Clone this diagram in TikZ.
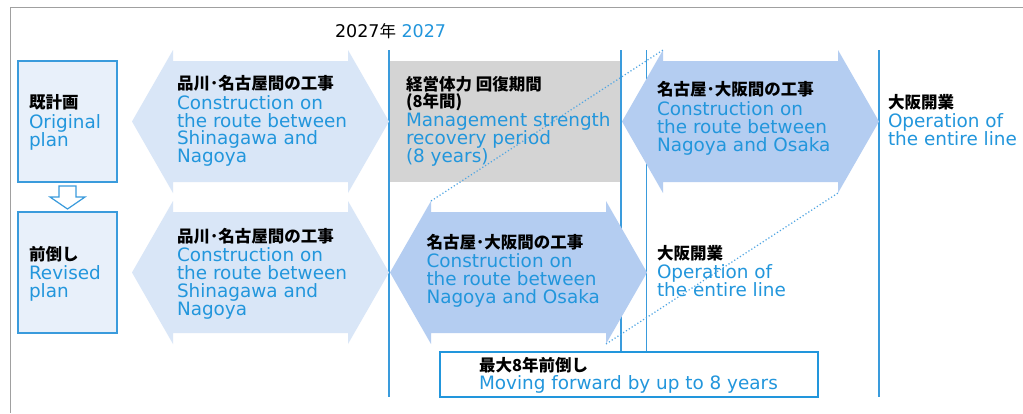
\documentclass[tikz,border=0pt]{standalone}
\usepackage{fontspec}
\setmainfont{DejaVu Sans}
\newfontfamily\jpf{Noto Sans CJK JP}
\definecolor{tblue}{HTML}{2296DC}
\definecolor{lblue}{HTML}{3A9BDC}
\definecolor{arrA}{HTML}{D9E6F7}
\definecolor{arrB}{HTML}{B4CDF1}
\definecolor{boxfill}{HTML}{E8F0FA}
\definecolor{grayfill}{HTML}{D4D4D4}
\definecolor{framecol}{HTML}{A0A0A0}
\definecolor{dotblue}{HTML}{4FA5E3}
\newcommand\jl[1]{\hbox{\fontsize{16.5}{17.8}\selectfont\jpf\bfseries #1}}
\newcommand\el[1]{\hbox{\fontsize{18.4}{17.8}\selectfont\color{tblue}#1}}
\newcommand\tb[1]{\vtop{\baselineskip=17.8pt\lineskip=0pt\lineskiplimit=-100pt\relax #1}}
\newcommand\hexarrow[4]{%
  \begin{scope}[shift={(#2,#3)}]
    \fill[#4] (0,0)--(41,-71.5)--(41,-60.5)--(216,-60.5)--(216,-71.5)--(257,0)
      --(216,71.5)--(216,60.5)--(41,60.5)--(41,71.5)--cycle;
    \coordinate (#1-tl) at (41,-71.5);
    \coordinate (#1-br) at (216,71.5);
  \end{scope}}
\tikzset{
  txt/.style={anchor=base west, inner sep=0pt, outer sep=0pt},
  planbox/.style={draw=lblue, fill=boxfill, line width=1.3pt, minimum width=99pt, minimum height=121pt, inner sep=0pt},
  vline/.style={draw=lblue, line width=1.3pt},
  dotline/.style={draw=dotblue, line width=1.2pt, dash pattern=on 1.2pt off 2.2pt},
}
\begin{document}
\begin{tikzpicture}[x=1pt,y=-1pt]
\useasboundingbox (0,0) rectangle (1023,413);
\fill[white] (0,0) rectangle (1023,413);
% frame
\draw[framecol, line width=1.5pt] (1023,7.5) -- (10.5,7.5) -- (10.5,413);
% gray box
\fill[grayfill] (390,61) rectangle (621,182);
% timeline lines
\draw[vline] (389,50) -- (389,397);
\draw[vline] (621,50) -- (621,352);
\draw[vline] (646.5,50) -- (646.5,352);
\draw[vline] (879,50) -- (879,397);
% arrows
\hexarrow{shA}{132}{121.5}{arrA}
\hexarrow{shB}{132}{272.5}{arrA}
\hexarrow{noA}{622}{121.5}{arrB}
\hexarrow{noB}{390}{272.5}{arrB}
% dotted connectors
\draw[dotline] (noB-tl) -- (noA-tl);
\draw[dotline] (noB-br) -- (noA-br);
% plan boxes
\node[planbox] (orig) at (67.5,121.5) {};
\node[planbox] (rev) at (67.5,272.5) {};
\draw[lblue, line width=1.2pt, fill=white, line join=miter]
  (59,186) -- (76,186) -- (76,197) -- (85,197) -- (67.5,209) -- (50,197) -- (59,197) -- cycle;
% bottom box
\node[draw=tblue, fill=white, line width=2pt, minimum width=378pt, minimum height=45pt, inner sep=0pt] (fwdbox) at (629,374.5) {};
% year label
\node[txt] (year) at (335,37) {\fontsize{17.5}{18}\selectfont 2027\jpf\fontsize{16.5}{18}\selectfont 年\fontsize{17.5}{18}\selectfont\rmfamily\ \textcolor{tblue}{2027}};
% texts
\node[txt] (t-orig) at (29,108.5) {\tb{\jl{既計画}\vskip2pt\el{Original}\el{plan}}};
\node[txt] (t-shA) at (177,89.5) {\tb{\jl{品川･名古屋間の工事}\vskip2pt\el{Construction on}\el{the route between}\el{Shinagawa and}\el{Nagoya}}};
\node[txt] (t-mgmt) at (406,90) {\tb{\jl{経営体力 回復期間}\jl{(8年間)}\vskip1pt\el{Management strength}\el{recovery period}\el{(8 years)}}};
\node[txt] (t-noA) at (657,95.5) {\tb{\jl{名古屋･大阪間の工事}\vskip2.5pt\el{Construction on}\el{the route between}\el{Nagoya and Osaka}}};
\node[txt] (t-opA) at (888,108) {\tb{\jl{大阪開業}\vskip2pt\el{Operation of}\el{the entire line}}};
\node[txt] (t-rev) at (29,260) {\tb{\jl{前倒し}\vskip2pt\el{Revised}\el{plan}}};
\node[txt] (t-shB) at (177,242) {\tb{\jl{品川･名古屋間の工事}\vskip2pt\el{Construction on}\el{the route between}\el{Shinagawa and}\el{Nagoya}}};
\node[txt] (t-noB) at (426.5,248) {\tb{\jl{名古屋･大阪間の工事}\vskip2pt\el{Construction on}\el{the route between}\el{Nagoya and Osaka}}};
\node[txt] (t-opB) at (657,259) {\tb{\jl{大阪開業}\vskip2pt\el{Operation of}\el{the entire line}}};
\node[txt] (t-fwd) at (479,371.5) {\tb{\jl{最大8年前倒し}\el{Moving forward by up to 8 years}}};
\end{tikzpicture}
\end{document}
